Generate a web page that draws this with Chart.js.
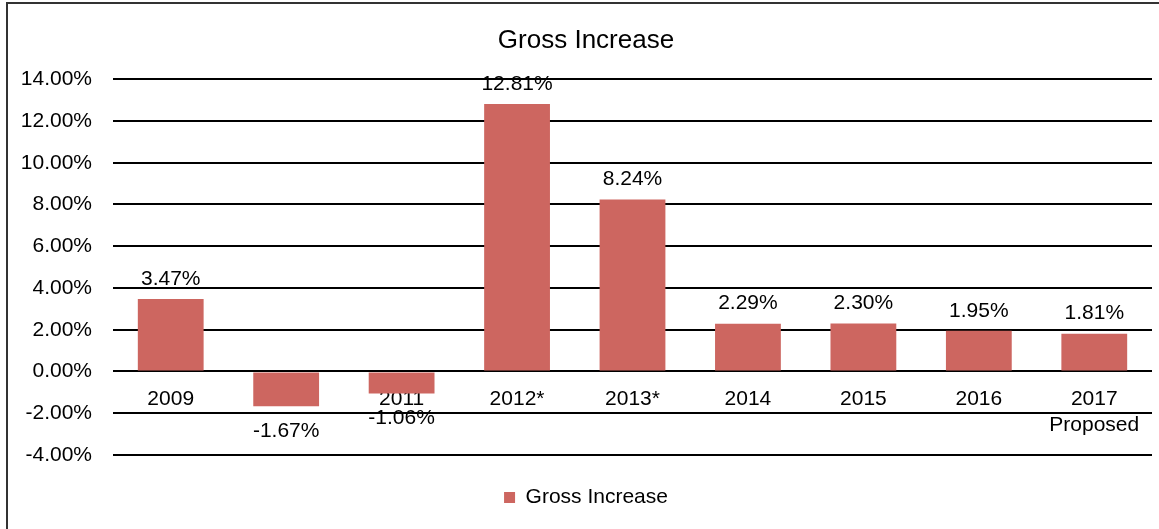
<!DOCTYPE html>
<html>
<head>
<meta charset="utf-8">
<title>Gross Increase</title>
<script src="https://cdn.jsdelivr.net/npm/chart.js@4"></script>
<style>
  html, body { margin: 0; padding: 0; background: #fff; overflow: hidden; }
  #wrap { position: relative; width: 1159px; height: 529px; }
  #frame {
    position: absolute; left: 6px; top: 2px; width: 1200px; height: 600px;
    border-left: 2px solid #333; border-top: 2px solid #333;
    pointer-events: none;
  }
  canvas { position: absolute; left: 0; top: 0; }
</style>
</head>
<body>
<div id="wrap">
  <canvas id="grossChart" width="1159" height="529"></canvas>
  <div id="frame"></div>
</div>
<script>
const FONT = "'Liberation Sans', Arial, sans-serif";

// Yearly values
const years = ['2009', '2010', '2011', '2012*', '2013*', '2014', '2015', '2016', ['2017', 'Proposed']];
const grossIncrease = [3.47, -1.67, -1.06, 12.81, 8.24, 2.29, 2.30, 1.95, 1.81];

const pct = v => v.toFixed(2) + '%';

// Value labels above positive bars, below negative ones
const barValues = {
  id: 'barValues',
  afterDatasetsDraw(chart) {
    const ctx = chart.ctx;
    const meta = chart.getDatasetMeta(0);
    ctx.save();
    ctx.font = '21px ' + FONT;
    ctx.fillStyle = '#000';
    ctx.textAlign = 'center';
    ctx.textBaseline = 'middle';
    meta.data.forEach((bar, i) => {
      const v = grossIncrease[i];
      const y = v >= 0 ? bar.y - 20 : bar.y + 25;
      ctx.fillText(pct(v), bar.x, y);
    });
    ctx.restore();
  }
};

const ctxGross = document.getElementById('grossChart').getContext('2d');

const grossChart = new Chart(ctxGross, {
  type: 'bar',
  data: {
    labels: years,
    datasets: [{
      label: 'Gross Increase',
      data: grossIncrease,
      backgroundColor: '#CD6660',
      borderWidth: 0,
      barPercentage: 0.57,
      categoryPercentage: 1
    }]
  },
  options: {
    responsive: false,
    animation: false,
    layout: {
      padding: { left: 20, right: 7, top: 0, bottom: 11 }
    },
    scales: {
      x: {
        position: { y: 0 },
        grid: { display: false, drawTicks: false },
        border: { display: false },
        ticks: {
          color: '#000',
          padding: 15,
          font: { family: FONT, size: 21, lineHeight: 1.24 },
          maxRotation: 0,
          autoSkip: false
        }
      },
      y: {
        min: -4,
        max: 14,
        grid: { color: '#000', lineWidth: 2, drawTicks: false },
        border: { display: false },
        ticks: {
          stepSize: 2,
          color: '#000',
          padding: 21,
          font: { family: FONT, size: 21 },
          callback: v => pct(v)
        },
        afterFit(scale) { scale.width = 93; }
      }
    },
    plugins: {
      title: {
        display: true,
        text: 'Gross Increase',
        color: '#000',
        font: { family: FONT, size: 26, weight: 'normal', lineHeight: 1.2 },
        padding: { top: 25, bottom: 23 }
      },
      legend: {
        position: 'bottom',
        labels: {
          color: '#000',
          boxWidth: 11,
          boxHeight: 11,
          padding: 32,
          font: { family: FONT, size: 21 }
        }
      },
      tooltip: { enabled: false }
    }
  },
  plugins: [barValues]
});
</script>
</body>
</html>
